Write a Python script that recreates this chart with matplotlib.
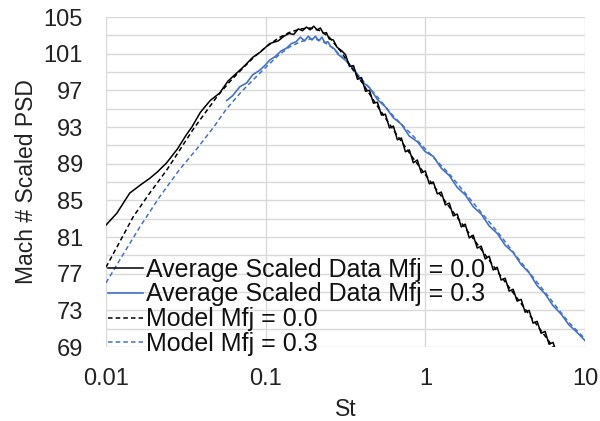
import matplotlib
matplotlib.use("Agg")
import matplotlib.pyplot as plt

plt.rcParams['font.family'] = ['Liberation Sans', 'DejaVu Sans']

# ---- data ----
black_data_x = [0.01, 0.0117, 0.0135, 0.0141, 0.0165, 0.0188, 0.021, 0.024, 0.028, 0.032,
                0.0345, 0.039, 0.045, 0.0515, 0.058, 0.066, 0.074, 0.083, 0.093, 0.106,
                0.12, 0.13, 0.14, 0.15, 0.16, 0.17, 0.18, 0.19, 0.2, 0.21, 0.22, 0.23,
                0.24, 0.25, 0.265, 0.28, 0.3,
                0.316, 0.335, 0.355, 0.376, 0.398, 0.422, 0.447, 0.473, 0.501, 0.531,
                0.562, 0.596, 0.631, 0.668, 0.708, 0.750, 0.794, 0.841, 0.891, 0.944,
                1.0, 1.059, 1.122, 1.189, 1.259, 1.334, 1.413, 1.496, 1.585, 1.679,
                1.778, 1.884, 1.995, 2.113, 2.239, 2.371, 2.512, 2.661, 2.818, 2.985,
                3.162, 3.350, 3.548, 3.758, 3.981, 4.217, 4.467, 4.732, 5.012, 5.309,
                5.623, 5.957, 6.310, 6.683]
black_data_y = [82.3, 83.6, 85.3, 85.8, 86.7, 87.4, 88.1, 89.1, 90.6, 92.2,
                93.0, 94.6, 95.9, 96.7, 98.0, 98.9, 99.7, 100.6, 101.2, 102.1,
                102.4, 102.9, 103.2, 103.1, 103.7, 103.5, 103.9, 103.6, 104.0, 103.6,
                103.8, 103.2, 103.3, 102.6, 102.5, 101.7, 101.3,
                100.9, 99.6, 99.7, 98.2, 98.4, 96.9, 97.0, 95.6, 95.7, 94.3,
                94.4, 92.9, 93.1, 91.6, 91.8, 90.3, 90.5, 89.1, 89.4, 88.0,
                88.2, 86.8, 87.0, 85.7, 85.9, 84.5, 84.7, 83.3, 83.5, 82.1,
                82.4, 80.9, 81.2, 79.8, 80.0, 78.6, 78.9, 77.4, 77.7, 76.3,
                76.5, 75.1, 75.3, 74.0, 74.2, 72.8, 73.0, 71.6, 71.8, 70.5,
                70.7, 69.3, 69.5, 68.1]

blue_data_x = [0.057, 0.062, 0.069, 0.076, 0.083, 0.092, 0.1, 0.106, 0.115, 0.125,
               0.135, 0.145, 0.155, 0.165, 0.175, 0.185, 0.195, 0.205, 0.215, 0.225,
               0.235, 0.245, 0.255, 0.27, 0.285, 0.3, 0.32,
               0.355, 0.398, 0.447, 0.501, 0.562, 0.631, 0.708, 0.794, 0.891, 1.0,
               1.122, 1.259, 1.413, 1.585, 1.778, 1.995, 2.239, 2.512, 2.818, 3.162,
               3.548, 3.981, 4.467, 5.012, 5.623, 6.310, 7.079, 7.943, 8.913, 10.0]
blue_data_y = [95.9, 96.4, 97.4, 97.8, 98.7, 99.2, 99.8, 100.3, 100.7, 101.3,
               101.6, 102.1, 102.3, 102.8, 102.4, 102.9, 102.5, 102.9, 102.4, 102.8,
               102.2, 102.3, 101.8, 101.5, 100.9, 100.6, 100.2,
               99.4, 98.0, 97.3, 96.0, 95.2, 94.0, 93.3, 92.0, 91.4, 90.3,
               89.8, 88.5, 87.7, 86.4, 85.6, 84.3, 83.5, 82.2, 81.4, 80.1,
               79.3, 78.0, 77.1, 75.7, 74.8, 73.5, 72.6, 71.4, 70.6, 69.7]

black_model_x = [0.01, 0.0117, 0.0148, 0.0188, 0.024, 0.029, 0.035, 0.042, 0.05, 0.06,
                 0.07, 0.083, 0.1, 0.12, 0.14, 0.165, 0.19, 0.22, 0.25, 0.3, 0.35,
                 0.4, 0.5, 0.63, 0.83, 1.0, 1.41, 2.0, 3.16, 5.0, 6.7]
black_model_y = [77.7, 79.9, 83.2, 85.8, 88.3, 90.5, 92.7, 94.6, 96.4, 98.0,
                 99.2, 100.5, 101.7, 102.7, 103.3, 103.7, 103.8, 103.5, 102.8, 101.1, 99.3,
                 97.9, 95.3, 92.7, 89.7, 87.8, 84.3, 80.8, 76.1, 71.4, 68.4]

blue_model_x = [0.01, 0.0122, 0.0163, 0.0217, 0.029, 0.037, 0.0473, 0.057, 0.07, 0.083,
                0.1, 0.12, 0.14, 0.165, 0.19, 0.22, 0.26, 0.32, 0.4, 0.5, 0.63, 0.83,
                1.0, 1.41, 2.0, 2.82, 4.0, 5.6, 7.9, 10.0]
blue_model_y = [76.0, 78.5, 82.1, 85.4, 88.4, 90.6, 93.0, 95.0, 96.8, 98.1,
                99.5, 100.8, 101.7, 102.3, 102.6, 102.5, 101.7, 100.2, 98.2, 96.3, 94.2, 92.1,
                90.6, 87.9, 84.7, 81.6, 78.2, 75.0, 71.7, 69.9]

labels = ["Average Scaled Data Mfj = 0.0", "Average Scaled Data Mfj = 0.3",
          "Model Mfj = 0.0", "Model Mfj = 0.3"]
y_ticks = [69, 73, 77, 81, 85, 89, 93, 97, 101, 105]
x_ticks = [0.01, 0.1, 1, 10]
x_ticklabels = ["0.01", "0.1", "1", "10"]

BLUE = "#4472C4"

fig = plt.figure(figsize=(6.0, 4.21), dpi=100)
ax = fig.add_axes([106/600, 1-347/421, (585-106)/600, (347-17)/421])

ax.plot(black_data_x, black_data_y, color="black", lw=1.1, label=labels[0], zorder=4)
ax.plot(blue_data_x, blue_data_y, color=BLUE, lw=1.2, label=labels[1], zorder=3)
ax.plot(black_model_x, black_model_y, color="black", lw=1.1, ls=(0, (3, 2)), label=labels[2], zorder=5)
ax.plot(blue_model_x, blue_model_y, color=BLUE, lw=1.1, ls=(0, (3, 2)), label=labels[3], zorder=2)

ax.set_xscale("log")
ax.set_xlim(0.01, 10)
ax.set_ylim(69, 105)
ax.set_xticks(x_ticks)
ax.set_xticklabels(x_ticklabels)
ax.xaxis.set_minor_locator(matplotlib.ticker.NullLocator())
ax.set_yticks(y_ticks)
ax.set_yticks(range(71, 105, 4), minor=True)
ax.grid(True, which="major", color="#d9d9d9", lw=1.0)
ax.grid(True, which="minor", axis="y", color="#d9d9d9", lw=1.0)
ax.set_axisbelow(True)
for s in ax.spines.values():
    s.set_visible(False)
ax.tick_params(which="both", length=0, labelsize=17, colors="#222222")
ax.tick_params(axis="y", pad=16.5)
ax.tick_params(axis="x", pad=15)
ax.set_xlabel("St", fontsize=16.5, color="#222222", labelpad=6)
ax.set_ylabel("Mach # Scaled PSD", fontsize=16.5, color="#222222", labelpad=4)

leg = ax.legend(loc="lower left", bbox_to_anchor=(108/600, 1-356/421),
                bbox_transform=fig.transFigure, frameon=False, fontsize=18,
                borderpad=0, borderaxespad=0, handlelength=1.4, handletextpad=0.1,
                labelspacing=0.03)
for t in leg.get_texts():
    t.set_color("#111111")

fig.savefig("out.png", dpi=100)
